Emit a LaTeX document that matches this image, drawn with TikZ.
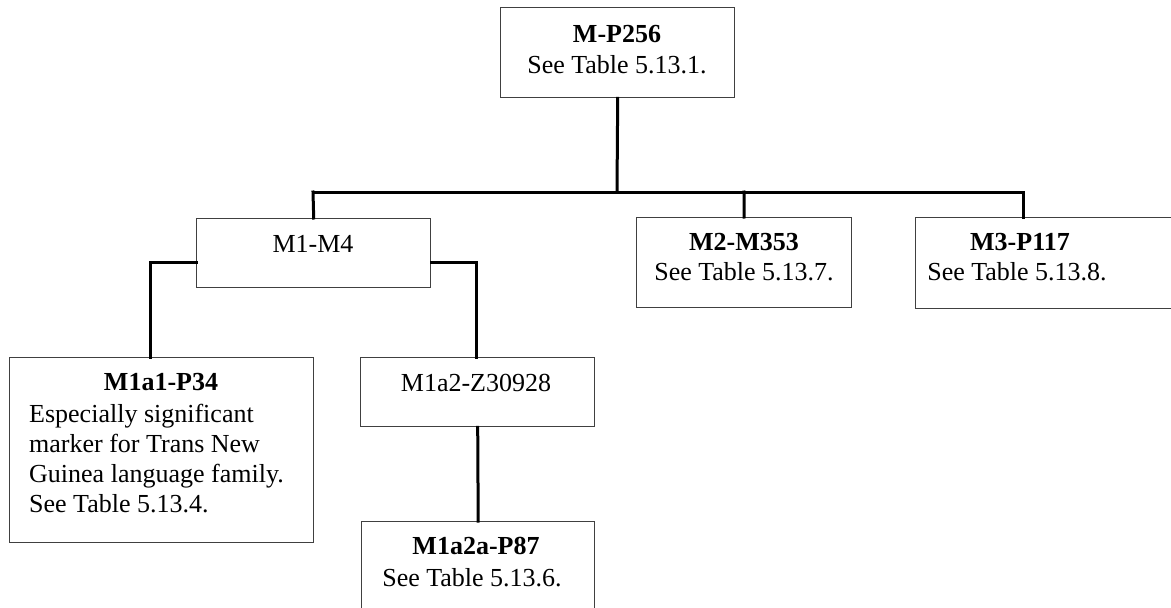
\documentclass[tikz,border=0pt]{standalone}
\usepackage{fontspec}
\setmainfont{Liberation Serif}
\begin{document}
\begin{tikzpicture}[x=1pt,y=-1pt,
  box/.style={draw=black!75,line width=1.4pt,fill=white,rectangle,inner sep=0pt,anchor=north west},
  link/.style={draw=black,line width=3pt,line cap=rect},
  txt/.style={inner sep=0pt,anchor=base,font=\fontsize{26}{30}\selectfont},
  ttl/.style={txt,font=\fontsize{26}{30}\selectfont\bfseries},
  lt/.style={txt,anchor=base west}]
\useasboundingbox (0,0) rectangle (1171,608);
\clip (0,0) rectangle (1171,608);

% junction points of the tree connectors
\coordinate (busL) at (313,192);
\coordinate (busR) at (1023,192);
\coordinate (busM) at (617,192);
\coordinate (bus2) at (744,192);
\coordinate (lk) at (150,262);
\coordinate (rk) at (476,262);

% boxes
\node[box,minimum width=234pt,minimum height=90pt] (top) at (500,7) {};
\node[box,minimum width=234pt,minimum height=69pt] (m14) at (196,218) {};
\node[box,minimum width=215pt,minimum height=90pt] (m2) at (636,217) {};
\node[box,minimum width=300pt,minimum height=91pt] (m3) at (915,217) {};
\node[box,minimum width=304pt,minimum height=185pt] (m1a1) at (9,357) {};
\node[box,minimum width=234pt,minimum height=69pt] (m1a2) at (360,357) {};
\node[box,minimum width=233pt,minimum height=110pt] (m1a2a) at (361,521) {};

% connectors
\draw[link] (top.south) -- (busM);
\draw[link] (busL) -- (busR);
\draw[link] (busL) -- (m14.north);
\draw[link] (bus2) -- (m2.north);
\draw[link] (busR) -- (m3.north -| busR);
\draw[link] (m14.west |- lk) -- (lk) -- (lk |- m1a1.north);
\draw[link] (m14.east |- rk) -- (rk) -- (rk |- m1a2.north);
\draw[link] (m1a2.south) -- (m1a2a.north);

% texts
\node[ttl] (topT) at (617,42) {M-P256};
\node[txt] (topS) at (617,73) {See Table 5.13.1.};

\node[txt] (m14T) at (313,252) {M1-M4};

\node[ttl] (m2T) at (744,250) {M2-M353};
\node[txt] (m2S) at (744,280) {See Table 5.13.7.};

\node[ttl] (m3T) at (1020,250) {M3-P117};
\node[txt] (m3S) at (1017,280) {See Table 5.13.8.};

\node[ttl] (m1a1T) at (161,390) {M1a1-P34};
\node[lt] (m1a1A) at (29,422) {Especially significant};
\node[lt] (m1a1B) at (29,452) {marker for Trans New};
\node[lt] (m1a1C) at (29,482) {Guinea language family.};
\node[lt] (m1a1D) at (29,512) {See Table 5.13.4.};

\node[txt] (m1a2T) at (476,391) {M1a2-Z30928};

\node[ttl] (m1a2aT) at (476,554) {M1a2a-P87};
\node[txt] (m1a2aS) at (472,586) {See Table 5.13.6.};
\end{tikzpicture}
\end{document}
